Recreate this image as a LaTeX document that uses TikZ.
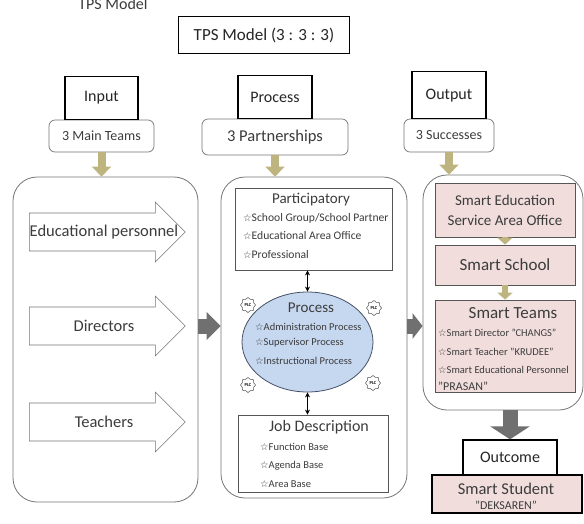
\documentclass[tikz,border=0pt]{standalone}
\usepackage{fontspec}
\setmainfont{Carlito}
\newfontfamily\symfont{DejaVu Sans}
\usetikzlibrary{positioning,shapes.geometric,shapes.arrows,shapes.symbols,arrows.meta}

\definecolor{khaki}{RGB}{190,180,128}
\definecolor{arrowgray}{RGB}{112,112,112}
\definecolor{lightblue}{RGB}{198,215,240}
\definecolor{rosepink}{RGB}{242,221,221}
\definecolor{framegray}{RGB}{118,118,118}
\definecolor{boxgray}{RGB}{85,85,85}
\definecolor{ellipseline}{RGB}{70,80,100}
\definecolor{textgray}{RGB}{60,60,60}

\newcommand{\tpsstar}{{\symfont\fontsize{9.5}{9.5}\selectfont\char"2606}}

\tikzset{
	headbox/.style={draw=black, line width=1.3pt, fill=white, inner sep=0pt, text=black!85, font=\fontsize{16}{18}\selectfont},
	tagbox/.style={draw=framegray, line width=0.7pt, rounded corners=6pt, fill=white, inner sep=0pt, text=textgray, font=\fontsize{14}{16}\selectfont},
	panel/.style={draw=framegray, line width=0.8pt, rounded corners=24pt},
	listbox/.style={draw=boxgray, line width=0.8pt, fill=white},
	pinkbox/.style={draw=boxgray, line width=0.8pt, fill=rosepink, inner sep=0pt, align=center, text=textgray, font=\fontsize{15}{20}\selectfont},
	blockarrow/.style={single arrow, draw=framegray, fill=white, line width=0.6pt, inner xsep=0pt, inner ysep=12pt, minimum width=60pt, minimum height=156pt, anchor=tail},
	armlabel/.style={inner sep=0pt, text=textgray, font=\fontsize{16.5}{18}\selectfont},
	listhead/.style={inner sep=0pt, text=textgray, font=\fontsize{15}{17}\selectfont},
	item/.style={anchor=west, inner sep=0pt, text=textgray, font=\fontsize{10.5}{12}\selectfont},
	plc/.style={cloud, cloud puffs=8, draw=black!80, fill=white, inner sep=0.3pt, minimum size=15pt, aspect=1, font=\fontsize{4.5}{5}\selectfont\bfseries},
	khakiflow/.style={khaki, line width=8pt, -{Triangle[length=10pt,width=19pt]}},
	khakismall/.style={khaki, line width=6pt, -{Triangle[length=7pt,width=15pt]}},
	grayflow/.style={arrowgray, line width=15pt, -{Triangle[length=14pt,width=27pt]}},
	linkflow/.style={{Stealth[length=5pt,width=5pt]}-{Stealth[length=5pt,width=5pt]}, line width=1.2pt},
}

\begin{document}
\begin{tikzpicture}[x=1pt, y=-1pt]
	\useasboundingbox[fill=white] (0,0) rectangle (584,523);

	% heading
	\node[inner sep=0pt, anchor=base, text=textgray, font=\fontsize{16}{18}\selectfont] (caption) at (113,9) {TPS Model};
	\node[headbox, minimum width=171pt, minimum height=37pt, font=\fontsize{17}{19}\selectfont] (title) at (264,35) {TPS Model (3 : 3 : 3)};

	% three columns
	\node[tagbox, minimum width=105pt, minimum height=32pt] (mainteams) at (101.5,136) {3 Main Teams};
	\node[headbox, minimum width=73pt, minimum height=43pt, above=-0.6pt of mainteams] (input) {Input};
	\node[tagbox, minimum width=146pt, minimum height=36pt, font=\fontsize{16.5}{18}\selectfont] (partners) at (275,137) {3 Partnerships};
	\node[headbox, minimum width=74pt, minimum height=43pt, above=-0.6pt of partners] (processhead) {Process};
	\node[tagbox, minimum width=90pt, minimum height=33pt] (successes) at (449,135.5) {3 Successes};
	\node[headbox, minimum width=74pt, minimum height=47pt, above=-0.6pt of successes] (output) {Output};

	\node[panel, minimum width=185pt, minimum height=325pt] (inputpanel) at (105.5,339.5) {};
	\node[panel, minimum width=186pt, minimum height=321pt] (processpanel) at (314,337.5) {};
	\node[panel, minimum width=160pt, minimum height=235pt] (outputpanel) at (503,292.5) {};

	\draw[khakiflow] (mainteams.south) -- (mainteams.south |- inputpanel.north);
	\draw[khakiflow] (partners.south) -- (partners.south |- processpanel.north);
	\draw[khakiflow] (successes.south) -- (successes.south |- outputpanel.north);

	% input
	\foreach \y/\name/\txt in {232/edu/Educational personnel, 326/dir/Directors, 422/tea/Teachers} {
		\node[blockarrow] (\name) at (29,\y) {};
		\node[armlabel] (\name-text) at (104,\y) {\txt};
	}

	\draw[grayflow] (inputpanel.east |- dir) -- (processpanel.west |- dir);
	\draw[grayflow, -{Triangle[length=10pt,width=25pt]}] (processpanel.east |- dir) -- (outputpanel.west |- dir);

	% process
	\node[listbox, minimum width=157pt, minimum height=82pt] (partic) at (313.5,229) {};
	\node[listhead] (partic-head) at (311,200) {Participatory};
	\node[item, font=\fontsize{11.6}{13}\selectfont] (partic-1) at (243,218) {\tpsstar School Group/School Partner};
	\node[item, font=\fontsize{11.6}{13}\selectfont] (partic-2) at (243,236) {\tpsstar Educational Area Office};
	\node[item, font=\fontsize{11.6}{13}\selectfont] (partic-3) at (243,255) {\tpsstar Professional};

	\node[ellipse, draw=ellipseline, line width=0.8pt, fill=lightblue, minimum width=131pt, minimum height=100pt] (process) at (307.5,342) {};
	\node[listhead] (process-head) at (311,308) {Process};
	\node[item] (process-1) at (255,327) {\tpsstar Administration Process};
	\node[item] (process-2) at (255,343) {\tpsstar Supervisor Process};
	\node[item] (process-3) at (255,361) {\tpsstar Instructional Process};

	\node[plc] (plc1) at (248,305) {PLC};
	\node[plc] (plc2) at (374,308) {PLC};
	\node[plc] (plc3) at (248,385) {PLC};
	\node[plc] (plc4) at (373,383) {PLC};

	\node[listbox, minimum width=150pt, minimum height=77pt] (job) at (313,453.5) {};
	\node[listhead, font=\fontsize{16}{18}\selectfont] (job-head) at (319,427) {Job Description};
	\node[item] (job-1) at (260,447) {\tpsstar Function Base};
	\node[item] (job-2) at (260,466) {\tpsstar Agenda Base};
	\node[item] (job-3) at (260,484) {\tpsstar Area Base};

	\draw[linkflow] (process.north |- partic.south) -- (process.north);
	\draw[linkflow] (process.south) -- (process.south |- job.north);

	% output
	\node[pinkbox, minimum width=140pt, minimum height=54pt] (office) at (505,210) {Smart Education\\Service Area Office};
	\node[pinkbox, minimum width=140pt, minimum height=40pt, font=\fontsize{17}{19}\selectfont] (school) at (505,265) {Smart School};
	\node[pinkbox, minimum width=140pt, minimum height=92pt] (teams) at (505,346) {};
	\node[listhead, font=\fontsize{17}{19}\selectfont] (teams-head) at (513,313) {Smart Teams};
	\node[item] (teams-1) at (438,333) {\tpsstar Smart Director "CHANGS"};
	\node[item] (teams-2) at (438,352) {\tpsstar Smart Teacher "KRUDEE"};
	\node[item] (teams-3) at (438,370) {\tpsstar Smart Educational Personnel};
	\node[item, font=\fontsize{12}{13}\selectfont] (teams-4) at (438,386) {"PRASAN"};

	\draw[khakismall] (office.south) -- (school.north);
	\draw[khakismall] (school.south) -- (teams.north);

	% outcome
	\node[headbox, minimum width=94pt, minimum height=35pt] (outcome) at (510,457.5) {Outcome};
	\node[headbox, fill=rosepink, minimum width=150pt, minimum height=38pt] (student) at (507,494) {};
	\node[listhead, font=\fontsize{16.5}{18}\selectfont] (student-head) at (506,489) {Smart Student};
	\node[listhead, font=\fontsize{12}{13}\selectfont] (student-tag) at (506,505) {"DEKSAREN"};

	\draw[grayflow, -{Triangle[length=13pt,width=39pt]}] (outcome.north |- outputpanel.south) -- (outcome.north);
\end{tikzpicture}
\end{document}
